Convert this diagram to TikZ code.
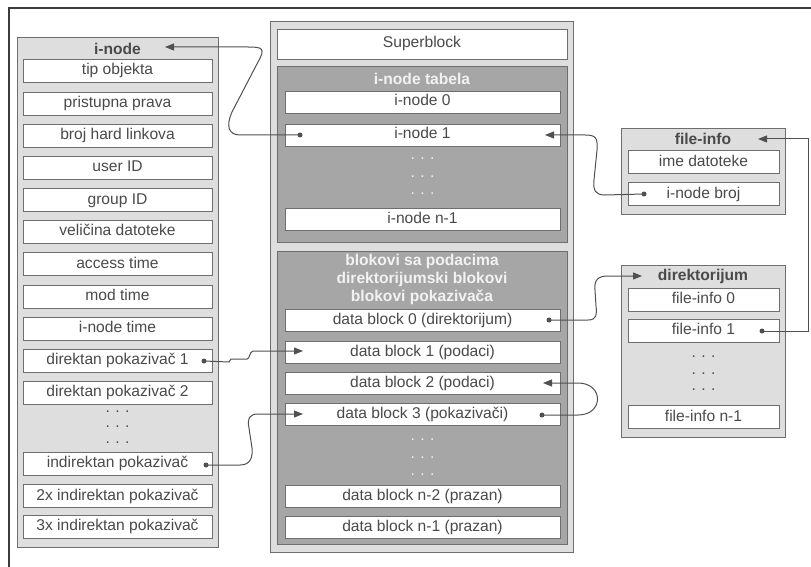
\documentclass[tikz,border=0pt]{standalone}
\usepackage{fontspec}
\setmainfont{Liberation Sans}
\usetikzlibrary{arrows.meta}
\definecolor{txt}{HTML}{4A4A4A}
\definecolor{bordc}{HTML}{6E6E6E}
\definecolor{lightf}{HTML}{DEDEDE}
\definecolor{darkf}{HTML}{A6A6A6}
\definecolor{headw}{HTML}{F2F2F2}
\definecolor{linec}{HTML}{505050}
\definecolor{framec}{HTML}{3C3C3C}
\newcommand{\threedots}{.\hspace{5.5pt}.\hspace{5.5pt}.}
\begin{document}
\begin{tikzpicture}[x=1pt,y=-1pt,
  basefont/.style={font=\fontsize{15.6}{18}\selectfont},
  panel/.style={draw=bordc, fill=lightf, line width=1pt, inner sep=0pt},
  darkpanel/.style={draw=bordc, fill=darkf, line width=1pt, inner sep=0pt},
  cell/.style={draw=bordc, fill=white, line width=0.9pt, inner sep=0pt, text=txt, basefont, text height=11pt, text depth=3pt},
  cellL/.style={cell, minimum width=189pt, minimum height=23pt},
  cellM/.style={cell, minimum width=275pt, minimum height=22pt},
  cellR/.style={cell, minimum width=151pt, minimum height=23pt},
  title/.style={text=txt, font=\fontsize{15.6}{18}\selectfont\bfseries, inner sep=0pt},
  titlew/.style={text=headw, font=\fontsize{15.6}{18}\selectfont\bfseries, inner sep=0pt, align=center},
  dotsd/.style={text=txt, basefont, inner sep=0pt},
  dotsw/.style={text=headw, basefont, inner sep=0pt},
  dot/.style={circle, fill=linec, inner sep=0pt, minimum size=5pt},
  conn/.style={draw=linec, line width=1pt},
  arr/.style={conn, -{Triangle[length=9pt,width=7pt]}}
]
\useasboundingbox (0,0) rectangle (811,567);
\fill[white] (0,0) rectangle (811,567);
% outer frame (clipped)
\draw[framec, line width=1.8pt] (9,567) -- (9,8) -- (811,8);

% ---------- left panel: i-node ----------
\node[panel, minimum width=201pt, minimum height=509pt] (Lpanel) at (117.5,292.5) {};
\node[title] (Ltitle) at (117.5,49) {i-node};
\node[cellL] (L1) at (117.5,71) {tip objekta};
\node[cellL] (L2) at (117.5,103.5) {pristupna prava};
\node[cellL] (L3) at (117.5,135.5) {broj hard linkova};
\node[cellL] (L4) at (117.5,167.5) {user ID};
\node[cellL] (L5) at (117.5,200) {group ID};
\node[cellL] (L6) at (117.5,231.5) {veličina datoteke};
\node[cellL] (L7) at (117.5,264) {access time};
\node[cellL] (L8) at (117.5,296.5) {mod time};
\node[cellL] (L9) at (117.5,328.5) {i-node time};
\node[cellL] (L10) at (117.5,360.5) {direktan pokazivač 1};
\node[cellL] (L11) at (117.5,392.5) {direktan pokazivač 2};
\node[dotsd] (Ld1) at (117.5,412) {\threedots};
\node[dotsd] (Ld2) at (117.5,427) {\threedots};
\node[dotsd] (Ld3) at (117.5,443) {\threedots};
\node[cellL] (L12) at (117.5,463.5) {indirektan pokazivač};
\node[cellL] (L13) at (117.5,496) {2x indirektan pokazivač};
\node[cellL] (L14) at (117.5,526.5) {3x indirektan pokazivač};

% ---------- middle panel ----------
\node[panel, minimum width=303pt, minimum height=530pt] (Mpanel) at (421.5,287) {};
\node[cell, minimum width=290pt, minimum height=30pt] (SB) at (422,44) {Superblock};
\node[darkpanel, minimum width=290pt, minimum height=175pt] (IT) at (422,154.5) {};
\node[titlew] (ITtitle) at (422,79) {i-node tabela};
\node[cellM] (I0) at (422.5,102) {i-node 0};
\node[cellM] (I1) at (422.5,135) {i-node 1};
\node[dotsw] (Id1) at (422.5,159) {\threedots};
\node[dotsw] (Id2) at (422.5,177) {\threedots};
\node[dotsw] (Id3) at (422.5,194) {\threedots};
\node[cellM] (In) at (422.5,219) {i-node n-1};
\node[darkpanel, minimum width=290pt, minimum height=293pt] (DB) at (422,397.5) {};
\node[titlew] (DBtitle) at (422,279) {blokovi sa podacima\\direktorijumski blokovi\\blokovi pokazivača};
\node[cellM] (D0) at (422.5,320) {data block 0 (direktorijum)};
\node[cellM] (D1) at (422.5,352) {data block 1 (podaci)};
\node[cellM] (D2) at (422.5,383) {data block 2 (podaci)};
\node[cellM] (D3) at (422.5,414.5) {data block 3 (pokazivači)};
\node[dotsw] (Dd1) at (422.5,440) {\threedots};
\node[dotsw] (Dd2) at (422.5,458) {\threedots};
\node[dotsw] (Dd3) at (422.5,475) {\threedots};
\node[cellM] (Dn2) at (422.5,496.5) {data block n-2 (prazan)};
\node[cellM] (Dn1) at (422.5,527) {data block n-1 (prazan)};

% ---------- right: file-info ----------
\node[panel, minimum width=164pt, minimum height=85pt] (FI) at (703,171.5) {};
\node[title] (FItitle) at (703,139) {file-info};
\node[cellR] (F1) at (703.5,162) {ime datoteke};
\node[cellR] (F2) at (703.5,194) {i-node broj};

% ---------- right: direktorijum ----------
\node[panel, minimum width=164pt, minimum height=172pt] (DI) at (703,351) {};
\node[title] (DItitle) at (703,276) {direktorijum};
\node[cellR] (R0) at (703.5,299.5) {file-info 0};
\node[cellR] (R1) at (703.5,330.5) {file-info 1};
\node[dotsd] (Rd1) at (703.5,357) {\threedots};
\node[dotsd] (Rd2) at (703.5,374) {\threedots};
\node[dotsd] (Rd3) at (703.5,390) {\threedots};
\node[cellR] (Rn) at (703.5,417) {file-info n-1};

% ---------- connector ends ----------
\node[dot] (d1) at (300,135) {};
\node[dot] (d2) at (644,194) {};
\node[dot] (d3) at (762,331) {};
\node[dot] (d4) at (549,320) {};
\node[dot] (d5) at (204,361) {};
\node[dot] (d6) at (206,465) {};
\node[dot] (d7) at (542,415) {};
\coordinate (t1) at (165,47);
\coordinate (t2) at (545,135);
\coordinate (t3) at (758,139);
\coordinate (t4) at (642,276);
\coordinate (t5) at (303,351);
\coordinate (t6) at (303,414);
\coordinate (t7) at (543,383);

% ---------- connectors ----------
\draw[arr] (d1.center) -- (240,135) .. controls (228,135) and (226,125) .. (232,112) -- (258,62) .. controls (266,48) and (262,47) .. (248,47) -- (t1);
\draw[arr] (d2.center) -- (605,195) .. controls (595,195) and (593,190) .. (594,180) -- (597,150) .. controls (598,137) and (595,135) .. (585,135) -- (t2);
\draw[arr] (d3.center) -- (808,331) -- (808,139) -- (t3);
\draw[arr] (d4.center) -- (588,320) .. controls (597,320) and (597,314) .. (596,306) -- (595,290) .. controls (594,280) and (598,276) .. (608,276) -- (t4);
\draw[arr] (d5.center) -- (229,362) -- (231,359) -- (247,359) .. controls (250,359) and (249,352) .. (253,351) -- (t5);
\draw[arr] (d6.center) -- (240,465) .. controls (250,465) and (253,458) .. (252,448) -- (249,428) .. controls (247,418) and (250,414) .. (258,414) -- (t6);
\draw[arr] (d7.center) -- (578,415) .. controls (604,415) and (604,383) .. (578,383) -- (t7);
\end{tikzpicture}
\end{document}
